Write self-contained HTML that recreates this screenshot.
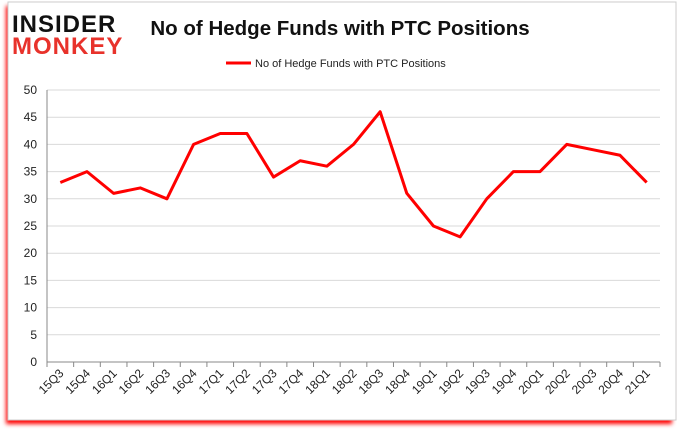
<!DOCTYPE html>
<html><head><meta charset="utf-8"><style>
body{margin:0;background:#fff;font-family:"Liberation Sans",sans-serif}
</style></head><body>
<svg width="680" height="433" xmlns="http://www.w3.org/2000/svg">
<defs><filter id="sh" x="-5%" y="-5%" width="110%" height="110%"><feGaussianBlur stdDeviation="2"/></filter></defs>
<rect x="6" y="6" width="666" height="418" fill="#f00" filter="url(#sh)"/>
<rect x="8" y="2" width="668" height="418" fill="#fff" stroke="#ccc"/>
<g>
<text x="12" y="32" font-size="24" font-weight="bold" fill="#111" letter-spacing="1">INSIDER</text>
<text x="12" y="54" font-size="24" font-weight="bold" fill="#e8322b" letter-spacing="1">MONKEY</text>
</g>
<text x="340" y="35" text-anchor="middle" font-size="20.5" font-weight="bold" fill="#111">No of Hedge Funds with PTC Positions</text>
<g>
<line x1="226" y1="63" x2="251" y2="63" stroke="#f00" stroke-width="3"/>
<text x="255" y="67" font-size="11" fill="#222">No of Hedge Funds with PTC Positions</text>
</g>
<g id="grid"></g><g id="axes"></g><g id="series"></g>
</svg>
<script>
const categories=["15Q3","15Q4","16Q1","16Q2","16Q3","16Q4","17Q1","17Q2","17Q3","17Q4","18Q1","18Q2","18Q3","18Q4","19Q1","19Q2","19Q3","19Q4","20Q1","20Q2","20Q3","20Q4","21Q1"];
const values=[33,35,31,32,30,40,42,42,34,37,36,40,46,31,25,23,30,35,35,40,39,38,33];
const yTicks=[0,5,10,15,20,25,30,35,40,45,50];
const NS="http://www.w3.org/2000/svg";
const L=47,R=660,T=90,B=362,step=(R-L)/categories.length;
const x=i=>L+step*(i+0.5), y=v=>B-(v/50)*(B-T);
function mk(tag,attrs,parent){const e=document.createElementNS(NS,tag);for(const k in attrs)e.setAttribute(k,attrs[k]);document.getElementById(parent).appendChild(e);return e;}
yTicks.forEach(t=>{
 const g=mk('line',{x1:L,x2:R,y1:y(t),y2:y(t),stroke:t===0?'#888':'#d9d9d9'},'grid');
 
 
 const tx=mk('text',{x:L-10,y:y(t)+4,'text-anchor':'end','font-size':12,fill:'#222'},'axes');
 tx.textContent=t;
 
 
});
const ya=mk('line',{x1:L,x2:L,y1:T,y2:B+4,stroke:'#888'},'axes');


for(let i=0;i<=categories.length;i++){
 const tk=mk('line',{x1:L+step*i,x2:L+step*i,y1:B,y2:B+5,stroke:'#888'},'axes');
 
 
}
categories.forEach((c,i)=>{
 const cx=x(i)+4,cy=B+12;
 const t=mk('text',{x:cx,y:cy,'text-anchor':'end','font-size':12,fill:'#222',transform:`rotate(-45 ${cx} ${cy})`},'axes');
 t.textContent=c;
 
 
});
const p=mk('polyline',{points:values.map((v,i)=>x(i)+','+y(v)).join(' '),fill:'none',stroke:'#f00','stroke-width':3,'stroke-linejoin':'round'},'series');


</script>
</body></html>
